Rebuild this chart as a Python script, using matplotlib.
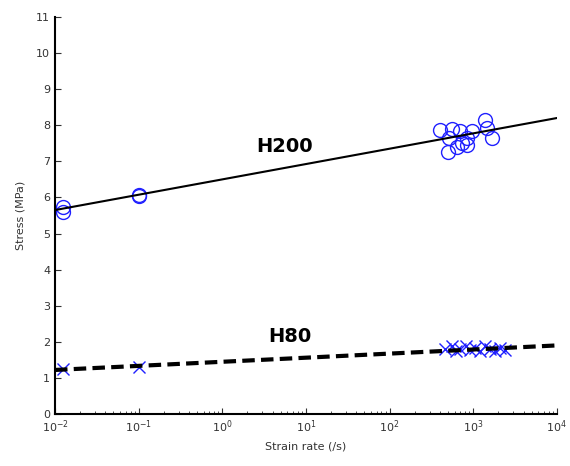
import numpy as np
import matplotlib
matplotlib.use("Agg")
import matplotlib.pyplot as plt

# H200 data (strain rate /s, stress MPa)
h200_rate = [0.0126, 0.0126, 0.1, 0.1,
             398, 550, 692, 513, 501, 631, 724, 851, 832, 977, 1380, 1479, 1698]
h200_stress = [5.73, 5.60, 6.05, 6.08,
               7.87, 7.89, 7.84, 7.65, 7.27, 7.40, 7.51, 7.45, 7.65, 7.84, 8.14, 7.92, 7.65]
# H80 data
h80_rate = [0.0126, 0.1,
            457, 550, 617, 692, 813, 912, 1047, 1202, 1380, 1585, 1820, 2089, 2399]
h80_stress = [1.25, 1.30,
              1.80, 1.88, 1.75, 1.80, 1.88, 1.76, 1.84, 1.75, 1.88, 1.80, 1.75, 1.82, 1.77]

# fit lines (stress = a + b*log10(rate))
fit_rate = [0.01, 10000]
h200_fit = [5.65, 8.20]
h80_fit = [1.22, 1.90]

fig = plt.figure(figsize=(5.70, 4.66), dpi=100)
ax = fig.add_axes([0.0965, 0.1116, 0.8805, 0.852])

ax.plot(fit_rate, h200_fit, color="black", lw=1.5, zorder=3)
ax.plot(fit_rate, h80_fit, color="black", lw=3, ls=(0, (3, 1.5)), zorder=3)
ax.plot(h200_rate, h200_stress, ls="none", marker="o", ms=10, mfc="none",
        mec="#2020ff", mew=1.0, zorder=2)
ax.plot(h80_rate, h80_stress, ls="none", marker="x", ms=8, mec="#2020ff",
        mew=1.0, zorder=2)

ax.set_xscale("log")
ax.set_xlim(0.01, 10000)
ax.set_ylim(0, 11)
ax.set_yticks(range(0, 12))
ax.spines["top"].set_visible(False)
ax.spines["right"].set_visible(False)
ax.spines["left"].set_linewidth(1.5)
ax.spines["bottom"].set_linewidth(1.5)
ax.tick_params(direction="in", which="both", labelsize=8, colors="#333333")
ax.tick_params(which="major", length=4)
ax.tick_params(which="minor", length=2)

ax.set_xlabel("Strain rate (/s)", fontsize=8, color="#333333", labelpad=4)
ax.set_ylabel("Stress (MPa)", fontsize=8, color="#333333", labelpad=8)

ax.text(10**0.75, 7.4, "H200", fontsize=14, fontweight="bold", ha="center", va="center")
ax.text(10**0.81, 2.16, "H80", fontsize=14, fontweight="bold", ha="center", va="center")

fig.savefig("out.png", dpi=100)
